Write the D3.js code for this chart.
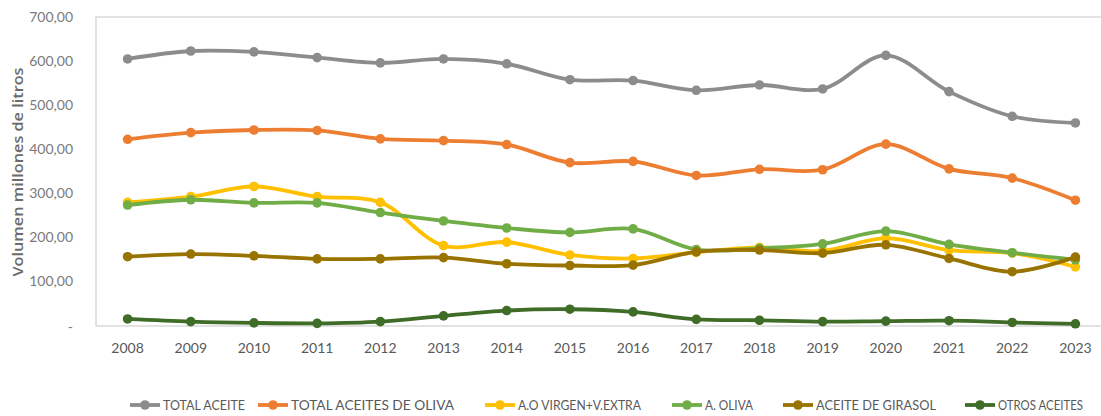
<!DOCTYPE html>
<html><head><meta charset="utf-8">
<script src="https://cdn.jsdelivr.net/npm/d3@7"></script>
<style>body{margin:0;background:#fff;}svg{display:block;}</style>
</head><body>
<svg id="c" width="1101" height="416"></svg>
<script>
const years = ["2008","2009","2010","2011","2012","2013","2014","2015","2016","2017","2018","2019","2020","2021","2022","2023"];
const totalAceite   = [605,623,621,608,596,605,594,558,556,534,546,537,613,531,475,460];
const totalOliva    = [423,438,444,443,424,420,411,370,373,341,355,354,412,356,335,285];
const virgenExtra   = [280,293,316,293,280,182,190,161,153,167,178,170,199,172,165,134];
const aOliva        = [274,286,279,279,257,238,222,212,220,173,176,186,215,185,166,150];
const girasol       = [157,163,159,152,152,155,141,137,138,168,172,165,184,153,123,156];
const otros         = [16,10,7,6,10,23,35,38,32,15,13,10,11,12,8,5];
const seriesNames   = ["TOTAL ACEITE","TOTAL ACEITES DE OLIVA","A.O VIRGEN+V.EXTRA","A. OLIVA","ACEITE DE GIRASOL","OTROS ACEITES"];
const yTicks = [0,100,200,300,400,500,600,700];

const colors = ["#8c8c8c","#ED7D31","#FFC000","#70AD47","#997300","#3f6c27"];
const seriesData = [totalAceite,totalOliva,virgenExtra,aOliva,girasol,otros];

const svg = d3.select("#c");
const pL = 96, pR = 1107, pT = 17, pB = 326;
const x = d3.scaleBand().domain(years).range([pL,pR]);
const y = d3.scaleLinear().domain([0,700]).range([pB,pT]);
const font = "Lato, 'Open Sans', sans-serif";

// frame
svg.append("rect").attr("x",pL).attr("y",pT).attr("width",pR-pL).attr("height",pB-pT)
  .attr("fill","none").attr("stroke","#d9d9d9").attr("stroke-width",1.5);

// y axis labels
const fmt = v => v===0 ? "-" : d3.format(".2f")(v).replace(".",",");
svg.append("g").selectAll("text").data(yTicks).join("text")
  .attr("x",73).attr("y",d=>y(d)+ (d===0?2:1)).attr("text-anchor","end").attr("dominant-baseline","middle")
  .attr("font-family",font).attr("font-size",14).attr("fill","#7a7a7a").text(fmt);

// x axis labels
svg.append("g").selectAll("text").data(years).join("text")
  .attr("x",d=>x(d)+x.bandwidth()/2).attr("y",349).attr("text-anchor","middle").attr("dominant-baseline","middle")
  .attr("font-family",font).attr("font-size",14).attr("fill","#595959").text(d=>d);

// y title
svg.append("text").attr("transform","translate(19,172) rotate(-90)").attr("text-anchor","middle")
  .attr("dominant-baseline","middle").attr("font-family","'Open Sans', sans-serif").attr("font-weight",600)
  .attr("font-size",15).attr("fill","#6b6b6b")
  .attr("textLength",209).attr("lengthAdjust","spacingAndGlyphs").text("Volumen millones de litros");

const line = d3.line().x((d,i)=>x(years[i])+x.bandwidth()/2).y(d=>y(d)).curve(d3.curveCatmullRom.alpha(0.5));
seriesData.forEach((s,k)=>{
  const g = svg.append("g");
  g.append("path").attr("d",line(s)).attr("fill","none").attr("stroke",colors[k]).attr("stroke-width",3.8)
    .attr("stroke-linejoin","round");
  g.selectAll("circle").data(s).join("circle")
    .attr("cx",(d,i)=>x(years[i])+x.bandwidth()/2).attr("cy",d=>y(d)).attr("r",4.8).attr("fill",colors[k]);
});

// legend
const legX = [130,258,485,672,783,965];
const legW = [82,163,123,48,120,85];
const lg = svg.append("g");
seriesNames.forEach((n,k)=>{
  const gx = legX[k], gy = 405;
  lg.append("line").attr("x1",gx).attr("x2",gx+30).attr("y1",gy).attr("y2",gy).attr("stroke",colors[k]).attr("stroke-width",3.8);
  lg.append("circle").attr("cx",gx+15).attr("cy",gy).attr("r",4.8).attr("fill",colors[k]);
  lg.append("text").attr("x",gx+33).attr("y",gy+1).attr("dominant-baseline","middle")
    .attr("font-family",font).attr("font-size",14).attr("fill","#595959")
    .attr("textLength",legW[k]).attr("lengthAdjust","spacingAndGlyphs").text(n);
});
</script>
</body></html>
